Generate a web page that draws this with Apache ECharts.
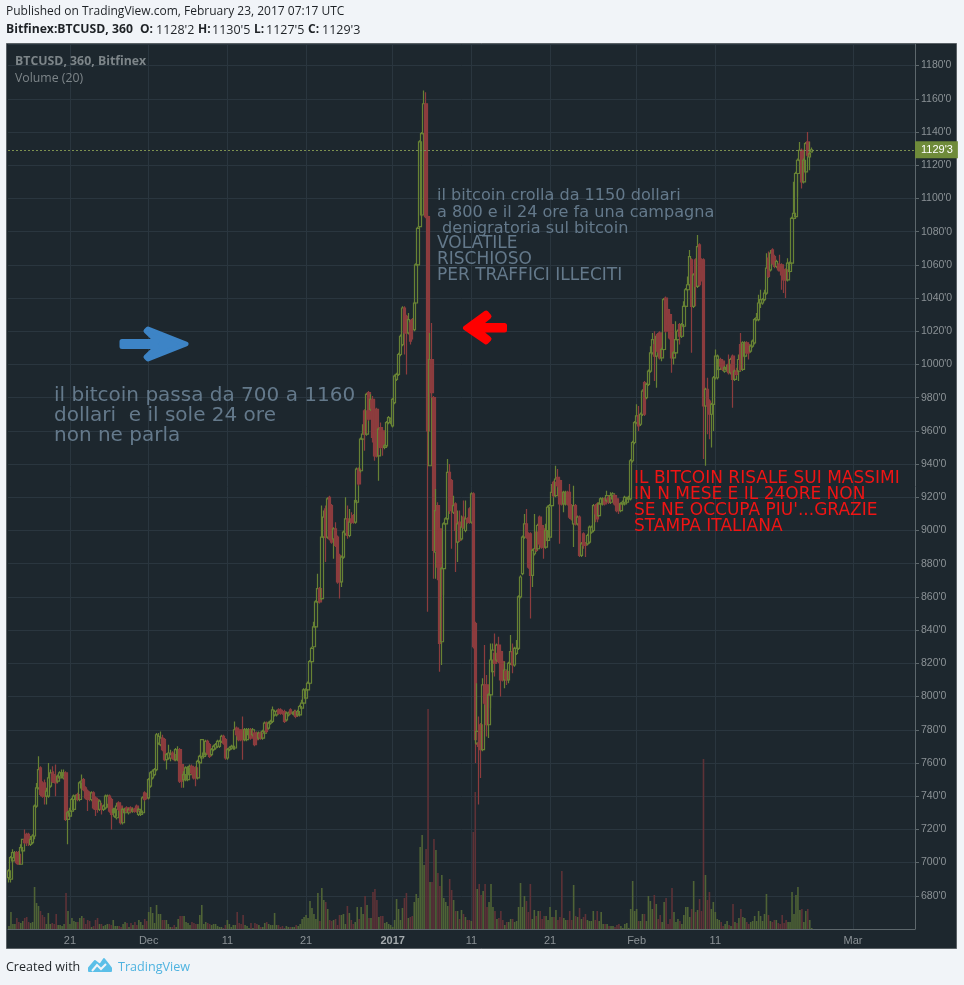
<!DOCTYPE html>
<html>
<head>
<meta charset="utf-8">
<title>BTCUSD, 360, Bitfinex</title>
<script src="https://cdn.jsdelivr.net/npm/echarts@6/dist/echarts.min.js"></script>
<style>
  html, body { margin: 0; padding: 0; background: #f1f4f8; }
  #chart { width: 964px; height: 985px; }
</style>
</head>
<body>
<div id="chart"></div>
<script>
// bars are [open, close, low, high], 6h each
const novBars = [
  [691,695,688,696],[690,703,688,704],[701,706,700,708],[703,706,702,707],[706,700,699,707],[705,699,699,707],
  [699,709,699,711],[707,714,706,714],[714,712,711,720],[717,712,710,718],[717,712,710,718],[711,714,710,716],
  [712,716,711,717],[716,734,714,735],[734,745,733,748],[745,756,744,764],[757,741,740,758],[747,740,739,749],
  [748,740,735,750],[740,743,735,745],[740,751,739,760],[746,754,745,756],[754,749,748,758],[753,749,748,755],
  [752,748,740,759],[749,752,748,753],[751,754,750,755],[752,754,752,756],[751,754,750,756],[754,726,725,755],
  [726,730,711,731],[728,731,727,733],[731,738,730,739],[732,740,731,741],[738,740,735,741],[741,738,737,742],
  [738,748,737,749],[745,749,744,753],[750,744,743,751],[745,739,738,746],[743,738,731,744],[742,738,737,743],
  [738,742,737,743],[742,733,732,743],[739,732,728,740],[738,732,730,739],[732,737,731,738],[734,732,729,736],
  [732,734,731,735],[733,740,732,741],[735,740,733,741],[740,731,730,741],[738,729,720,739],[730,732,729,733],
  [728,732,727,733],[727,734,726,736],[736,732,731,737],[734,724,723,736],[724,732,723,733],[730,732,729,733],
  [733,731,730,734],[730,732,729,733],[733,731,730,734],[731,732,730,733],[732,731,730,733],[734,731,730,735],
  [729,732,728,733],[729,731,728,732],[730,739,729,740],[742,738,737,743],[741,739,738,742]
];
const decBars = [
  [739,750,738,751],[746,754,745,755],[751,755,750,756],[753,756,752,757],[756,777,755,778],[772,776,771,778],
  [771,775,770,779],[775,768,767,777],[774,762,761,775],[762,765,756,766],[763,766,762,771],[763,765,761,768],
  [766,763,762,767],[765,762,761,768],[762,768,761,769],[762,768,761,770],[768,749,748,769],[759,749,745,760],
  [750,753,745,755],[750,757,749,758],[750,757,749,758],[753,758,752,759],[758,754,753,759],[757,751,750,758],
  [757,751,746,758],[751,761,750,762],[760,764,759,765],[763,774,762,774],[764,766,763,767],[765,773,764,774],
  [773,766,765,774],[771,764,763,772],[765,768,764,769],[768,770,767,771],[769,771,768,772],[770,773,769,774],
  [770,773,769,774],[773,776,772,777],[776,772,771,777],[774,763,762,775],[763,768,762,769],[768,769,767,770],
  [769,770,768,771],[769,770,768,771],[769,780,768,785],[781,777,776,782],[780,774,773,781],[779,774,773,780],
  [780,774,762,788],[774,780,773,781],[774,780,773,781],[777,780,776,781],[780,775,774,781],[777,780,776,781],
  [778,771,770,779],[778,774,773,779],[775,778,774,779],[778,775,774,779],[775,779,774,780],[778,784,777,785],
  [784,779,778,785],[781,784,780,785],[784,785,783,786],[785,792,784,794],[789,791,788,792],[789,791,788,792],
  [792,790,789,793],[792,790,789,793],[791,790,789,792],[791,785,784,792],[786,790,785,791],[789,790,788,791],
  [792,790,789,793],[790,790,789,791],[789,791,788,792],[791,788,787,792],[789,791,788,792],[789,794,788,795],
  [793,796,792,798],[796,804,795,805],[799,804,798,805],[804,808,803,809],[808,821,807,822],[821,829,820,830],
  [830,842,828,845],[842,857,841,858],[857,865,856,874],[865,857,856,866],[859,896,858,915],[896,908,895,912],
  [913,896,881,915],[896,919,895,920],[920,895,894,921],[915,893,892,916],[895,901,883,902],[901,891,890,905],
  [896,869,868,897],[885,869,859,886],[869,884,866,885],[884,899,883,900],[898,907,897,920],[907,897,895,915],
  [897,905,896,913],[907,905,904,911],[909,905,904,910],[905,918,904,919],[917,937,916,938],[937,928,927,938],
  [936,955,935,956],[955,958,954,964],[972,958,948,973],[958,982,957,983],[983,967,966,984],[973,979,972,982],
  [979,956,953,981],[973,945,942,979],[973,945,944,974],[945,961,930,962],[962,950,949,965],[960,950,945,961],
  [950,951,949,952],[951,965,950,966],[965,968,964,969],[966,967,964,968]
];
const janBars = [
  [963,979,962,980],[977,993,976,994],[991,994,990,995],[994,1006,993,1007],[1006,1017,1005,1018],[1012,1034,1011,1035],
  [1034,1019,1006,1035],[1029,1019,994,1030],[1019,1027,1018,1031],[1025,1014,1012,1027],[1027,1021,1015,1028],[1021,1037,1020,1038],
  [1037,1060,1036,1061],[1060,1082,1059,1083],[1083,1134,1082,1135],[1090,1139,1089,1140],[1139,1157,1138,1165],[1157,1089,1088,1164],
  [1089,960,851,1090],[939,1003,939,1019],[1003,983,980,1025],[980,888,871,981],[887,912,871,925],[915,878,870,917],
  [901,832,815,902],[833,877,819,878],[877,904,861,905],[904,907,903,908],[907,935,906,943],[935,912,910,940],
  [930,915,889,931],[911,915,910,921],[916,900,875,917],[893,904,881,912],[905,894,893,912],[895,902,894,909],
  [908,902,901,918],[900,907,899,918],[907,905,904,908],[913,905,904,914],[905,922,904,923],[922,830,829,923],
  [844,774,760,845],[772,779,771,808],[772,770,735,788],[783,768,751,784],[768,807,767,811],[807,796,795,831],
  [807,783,776,813],[783,801,775,802],[801,822,793,832],[815,828,814,832],[826,820,812,838],[822,831,821,832],
  [831,821,820,836],[827,810,800,828],[821,810,809,822],[810,816,805,821],[815,810,807,816],[810,820,808,821],
  [820,827,819,837],[827,819,814,832],[819,829,818,830],[826,829,825,834],[829,860,828,861],[860,872,859,873],
  [874,896,873,897],[896,904,895,910],[904,896,895,913],[898,878,877,899],[898,873,847,899],[873,888,866,889],
  [886,889,885,910],[899,888,887,900],[889,903,888,904],[908,892,891,909],[903,890,889,904],[901,890,883,902],
  [890,900,889,904],[894,914,893,915],[896,915,895,916],[915,923,914,928],[929,921,920,930],[921,931,920,939],
  [932,927,926,937],[930,916,892,931],[923,916,915,924],[916,923,911,924],[916,923,915,924],[923,916,915,924],
  [923,908,907,928],[915,907,906,916],[904,915,890,927],[915,904,903,916],[904,908,903,909],[908,885,884,909],
  [885,892,884,893],[898,891,889,899],[892,891,884,893],[892,897,891,898],[893,902,892,903],[899,902,898,903],
  [900,915,899,916],[915,910,905,916],[916,907,905,917],[909,916,908,917],[916,919,915,920],[916,919,915,920],
  [919,916,915,920],[918,921,917,924],[920,917,916,921],[917,921,916,923],[919,922,918,923],[921,916,915,922],
  [919,912,911,920],[916,912,910,917],[912,916,911,917],[916,917,915,918],[916,920,915,921],[917,919,916,920],
  [919,920,918,921],[919,942,918,943],[942,953,941,954],[953,965,952,966]
];
const febBars = [
  [965,969,964,976],[969,963,960,975],[964,970,963,971],[970,984,969,985],[989,970,969,990],[980,988,979,989],
  [988,996,987,997],[996,1007,995,1011],[1007,1015,1006,1019],[1012,1005,990,1020],[1005,1017,986,1018],[1018,1008,1007,1019],
  [1019,1004,1003,1020],[1004,1009,1002,1010],[1009,1039,1008,1040],[1040,1020,1019,1041],[1033,1024,1023,1034],[1030,1016,1015,1031],
  [1024,1004,995,1025],[1004,1007,1000,1008],[1007,1015,1006,1026],[1015,1020,1014,1021],[1024,1017,1012,1025],[1017,1024,1016,1025],
  [1023,1035,1022,1038],[1035,1045,1034,1046],[1045,1048,1044,1053],[1048,1065,1047,1069],[1063,1035,1007,1064],[1035,1054,1034,1055],
  [1063,1047,1035,1064],[1047,1071,1046,1078],[1072,1048,1047,1073],[1063,1055,1050,1064],[1063,975,943,1064],[975,985,939,986],
  [985,975,958,992],[978,970,955,979],[970,976,950,977],[976,992,960,993],[992,1005,991,1009],[992,1005,991,1006],
  [997,1003,996,1004],[1003,999,998,1004],[1002,997,996,1003],[996,998,995,999],[997,998,996,1000],[1000,995,994,1006],
  [995,1003,994,1004],[1005,991,974,1006],[991,996,990,997],[996,994,993,998],[996,1003,990,1006],[1012,997,996,1019],
  [997,1013,996,1014],[1005,1013,1004,1014],[1013,1007,1006,1014],[1012,1007,1003,1013],[1008,1011,1007,1012],[1011,1014,1010,1015],
  [1013,1027,1012,1028],[1027,1028,1026,1031],[1027,1037,1026,1042],[1037,1039,1034,1045],[1037,1039,1036,1040],[1039,1043,1038,1045],
  [1043,1058,1042,1067],[1064,1053,1052,1068],[1057,1067,1056,1069],[1069,1061,1060,1070],[1065,1059,1058,1066],[1059,1062,1058,1063],
  [1060,1057,1056,1061],[1060,1057,1056,1066],[1060,1054,1045,1061],[1057,1051,1043,1058],[1057,1051,1040,1058],[1051,1061,1050,1064],
  [1056,1061,1055,1062],[1061,1088,1060,1089],[1088,1091,1087,1110],[1089,1115,1088,1116],[1115,1123,1101,1124],[1123,1129,1122,1134],
  [1129,1110,1106,1130],[1110,1123,1109,1124],[1116,1133,1115,1134],[1134,1126,1125,1140],[1125,1127,1117,1134],[1128,1129.3,1127.5,1130.6]
];

// volume in pane units
const novVolume = [3,17,5,5,11,7,6,8,11,12,7,6,7,42,26,23,18,14,12,5,16,5,6,5,15,4,4,3,5,36,18,5,11,8,7,7,11,13,11,5,9,8,2,3,9,11,5,5,3,4,5,5,4,9,3,3,3,2,5,7,6,2,6,4,7,4,9,7,4,10,8];
const decVolume = [17,22,16,6,24,15,15,9,9,9,5,2,2,4,2,10,13,13,13,7,6,4,7,6,5,5,14,24,5,7,6,5,4,5,5,3,2,2,1,4,9,5,2,4,4,17,6,5,14,4,3,1,6,1,6,5,4,2,2,6,7,5,4,4,16,4,4,2,3,1,3,2,2,2,2,4,3,5,10,12,14,11,28,21,15,10,36,8,41,29,27,20,9,8,9,10,4,14,14,15,5,23,16,9,5,7,22,10,22,15,33,24,11,11,37,40,29,12,13,13,6,7,5,4];
const janVolume = [2,9,30,20,9,21,31,36,11,12,13,27,35,31,82,94,64,80,220,47,47,90,79,56,43,54,31,27,23,50,39,29,18,18,10,19,15,12,9,9,8,97,137,40,45,34,38,45,22,27,45,22,18,10,11,18,9,4,7,7,10,10,7,8,22,46,22,33,28,17,45,10,19,13,18,18,10,13,13,9,22,12,12,19,9,12,58,11,9,9,18,9,44,13,12,21,10,12,15,9,8,8,18,9,18,8,17,5,5,5,3,3,3,2,4,5,3,1,5,6,1,20,48,18];
const febVolume = [20,8,8,15,15,8,33,28,20,34,25,10,14,7,27,31,5,10,41,17,7,10,8,5,14,22,22,12,20,48,17,19,30,18,170,54,29,37,20,27,17,10,9,7,3,5,8,4,3,25,7,6,11,20,12,11,7,5,7,8,13,8,18,13,8,15,35,14,8,7,9,9,6,5,14,6,9,7,7,37,15,34,42,19,20,7,18,20,9,1];

// x axis runs on past the last bar, 461 slots of 6h
const SLOT_COUNT = 461;
const tickSlots = [31, 71, 111, 151, 195, 235, 275, 319, 359, 429];
const tickLabels = ["21", "Dec", "11", "21", "2017", "11", "21", "Feb", "11", "Mar"];
const LAST_PRICE = 1129.3;
const LAST_PRICE_LABEL = "1129'3";

const bars = [...novBars, ...decBars, ...janBars, ...febBars];
const volumes = [...novVolume, ...decVolume, ...janVolume, ...febVolume];

const categories = Array.from({ length: SLOT_COUNT }, (_, i) => {
  const at = tickSlots.indexOf(i);
  return at >= 0 ? tickLabels[at] : "";
});
const isTick = (i) => tickSlots.includes(i);

const UP = "#678234";
const DOWN = "#8c3c3e";
const UP_VOL = "#4f6336";
const DOWN_VOL = "#5e3237";
const TAG = "#6f8b3a";
const PANEL = "#1d272e";
const GRID_LINE = "#2a363f";
const AXIS_LINE = "#5d676c";
const AXIS_TEXT = "#8b9296";
const INK = "#1e2226";
const NOTE_GREY = "#64798b";
const SANS = '"Open Sans", sans-serif';
const NOTE = '"DejaVu Sans", sans-serif';

const text = (x, y, str, font, fill, extra) => ({
  type: "text",
  z: 50,
  silent: true,
  x,
  y,
  style: Object.assign({ text: str, font, fill }, extra),
});

const shape = (points, fill, strokeWidth) => ({
  type: "polygon",
  z: 50,
  silent: true,
  shape: { points },
  style: { fill, stroke: fill, lineWidth: strokeWidth, lineJoin: "round" },
});

const chart = echarts.init(document.getElementById("chart"));
chart.setOption({
  animation: false,
  backgroundColor: "#f1f4f8",
  grid: { left: 8, right: 49, top: 44, bottom: 56 },
  xAxis: {
    type: "category",
    data: categories,
    boundaryGap: true,
    axisLine: { lineStyle: { color: AXIS_LINE } },
    axisTick: { alignWithLabel: true, interval: isTick, length: 3, lineStyle: { color: AXIS_LINE } },
    axisLabel: {
      interval: isTick,
      hideOverlap: false,
      color: AXIS_TEXT,
      fontFamily: "Liberation Sans",
      fontSize: 11,
      margin: 6,
      formatter: (v) => (v === "2017" ? "{b|2017}" : v),
      rich: { b: { fontWeight: "bold", color: "#a4aaad", fontFamily: "Liberation Sans", fontSize: 11 } },
    },
    splitLine: { show: true, alignWithLabel: true, interval: isTick, lineStyle: { color: GRID_LINE } },
  },
  yAxis: [
    {
      type: "value",
      position: "right",
      min: 660,
      max: 1193,
      interval: 20,
      axisLine: { show: true, lineStyle: { color: AXIS_LINE } },
      axisTick: { show: true, length: 4, lineStyle: { color: AXIS_LINE } },
      axisLabel: {
        showMinLabel: false,
        showMaxLabel: false,
        color: AXIS_TEXT,
        fontFamily: "Liberation Sans",
        fontSize: 10.5,
        margin: 2,
        padding: [5, 0, 0, 4],
        formatter: (v) => v + "'0",
      },
      splitLine: { show: true, lineStyle: { color: GRID_LINE } },
    },
    { type: "value", min: 0, max: 885, show: false, splitLine: { show: false } },
  ],
  series: [
    {
      type: "bar",
      yAxisIndex: 1,
      barWidth: 1.6,
      silent: true,
      z: 2,
      data: volumes,
      itemStyle: { color: (p) => (bars[p.dataIndex][1] >= bars[p.dataIndex][0] ? UP_VOL : DOWN_VOL) },
    },
    {
      type: "candlestick",
      yAxisIndex: 0,
      barWidth: 3,
      silent: true,
      z: 3,
      data: bars,
      itemStyle: { color: "transparent", color0: DOWN, borderColor: UP, borderColor0: DOWN, borderWidth: 1.2 },
      markLine: {
        silent: true,
        symbol: ["none", "none"],
        animation: false,
        data: [{ yAxis: LAST_PRICE }],
        lineStyle: { type: [2, 2], color: "#7d9150", width: 1 },
        label: {
          position: "end",
          distance: 0,
          formatter: LAST_PRICE_LABEL,
          backgroundColor: TAG,
          color: "#ffffff",
          fontFamily: "Liberation Sans",
          fontSize: 11,
          padding: [3, 5, 3, 6],
        },
      },
    },
  ],
  graphic: [
    { type: "rect", z: -10, silent: true, shape: { x: 6.5, y: 43.5, width: 950, height: 905 }, style: { fill: PANEL, stroke: "#5a6166", lineWidth: 1 } },
    text(6, 6, "Published on TradingView.com, February 23, 2017 07:17 UTC", "12px " + SANS, INK),
    text(6, 24, "Bitfinex:BTCUSD, 360", "bold 12.2px " + SANS, INK),
    text(140, 24, "O:", "bold 12px " + SANS, INK),
    text(156, 24, "1128'2", "12.5px " + SANS, INK),
    text(198, 24, "H:", "bold 12px " + SANS, INK),
    text(212, 24, "1130'5", "12.5px " + SANS, INK),
    text(254, 24, "L:", "bold 12px " + SANS, INK),
    text(266, 24, "1127'5", "12.5px " + SANS, INK),
    text(308, 24, "C:", "bold 12px " + SANS, INK),
    text(322, 24, "1129'3", "12.5px " + SANS, INK),
    text(15, 55, "BTCUSD, 360, Bitfinex", "bold 12.3px " + SANS, "#7d8589"),
    text(15, 72, "Volume (20)", "12.3px " + SANS, "#7d8589"),
    text(54, 386, "il bitcoin passa da 700 a 1160\ndollari  e il sole 24 ore\nnon ne parla", "20px " + NOTE, NOTE_GREY, { lineHeight: 20 }),
    text(437, 188, "il bitcoin crolla da 1150 dollari\na 800 e il 24 ore fa una campagna\n denigratoria sul bitcoin", "16.1px " + NOTE, NOTE_GREY, { lineHeight: 16.3 }),
    text(437, 235, "VOLATILE\nRISCHIOSO\nPER TRAFFICI ILLECITI", "17px " + NOTE, NOTE_GREY, { lineHeight: 16.2 }),
    text(634, 471, "IL BITCOIN RISALE SUI MASSIMI\nIN N MESE E IL 24ORE NON\nSE NE OCCUPA PIU'...GRAZIE\nSTAMPA ITALIANA", "17px " + NOTE, "#f01414", { lineHeight: 16 }),
    shape([[122,341.5],[157,341.5],[146,331],[148,329],[186,344],[148,359],[146,357],[157,346.5],[122,346.5]], "#3d84c6", 5),
    shape([[465.5,328],[486,313],[489,316.5],[478,325.5],[504.5,325.5],[504.5,330],[478,330],[489,339],[486,342]], "#ff0000", 5),
    text(6, 961, "Created with", "12.5px " + SANS, INK),
    text(118, 961, "TradingView", "12.6px " + SANS, "#4fb3e0"),
    shape([[89,971],[89,968],[95,961],[100,965],[104,959],[108,964],[111,968],[111,971]], "#5bbfe8", 2),
    { type: "polyline", z: 51, silent: true, shape: { points: [[92,971],[97,965],[101,969],[106,964]] }, style: { fill: "none", stroke: "#f1f4f8", lineWidth: 2 } },
  ],
});
</script>
</body>
</html>
